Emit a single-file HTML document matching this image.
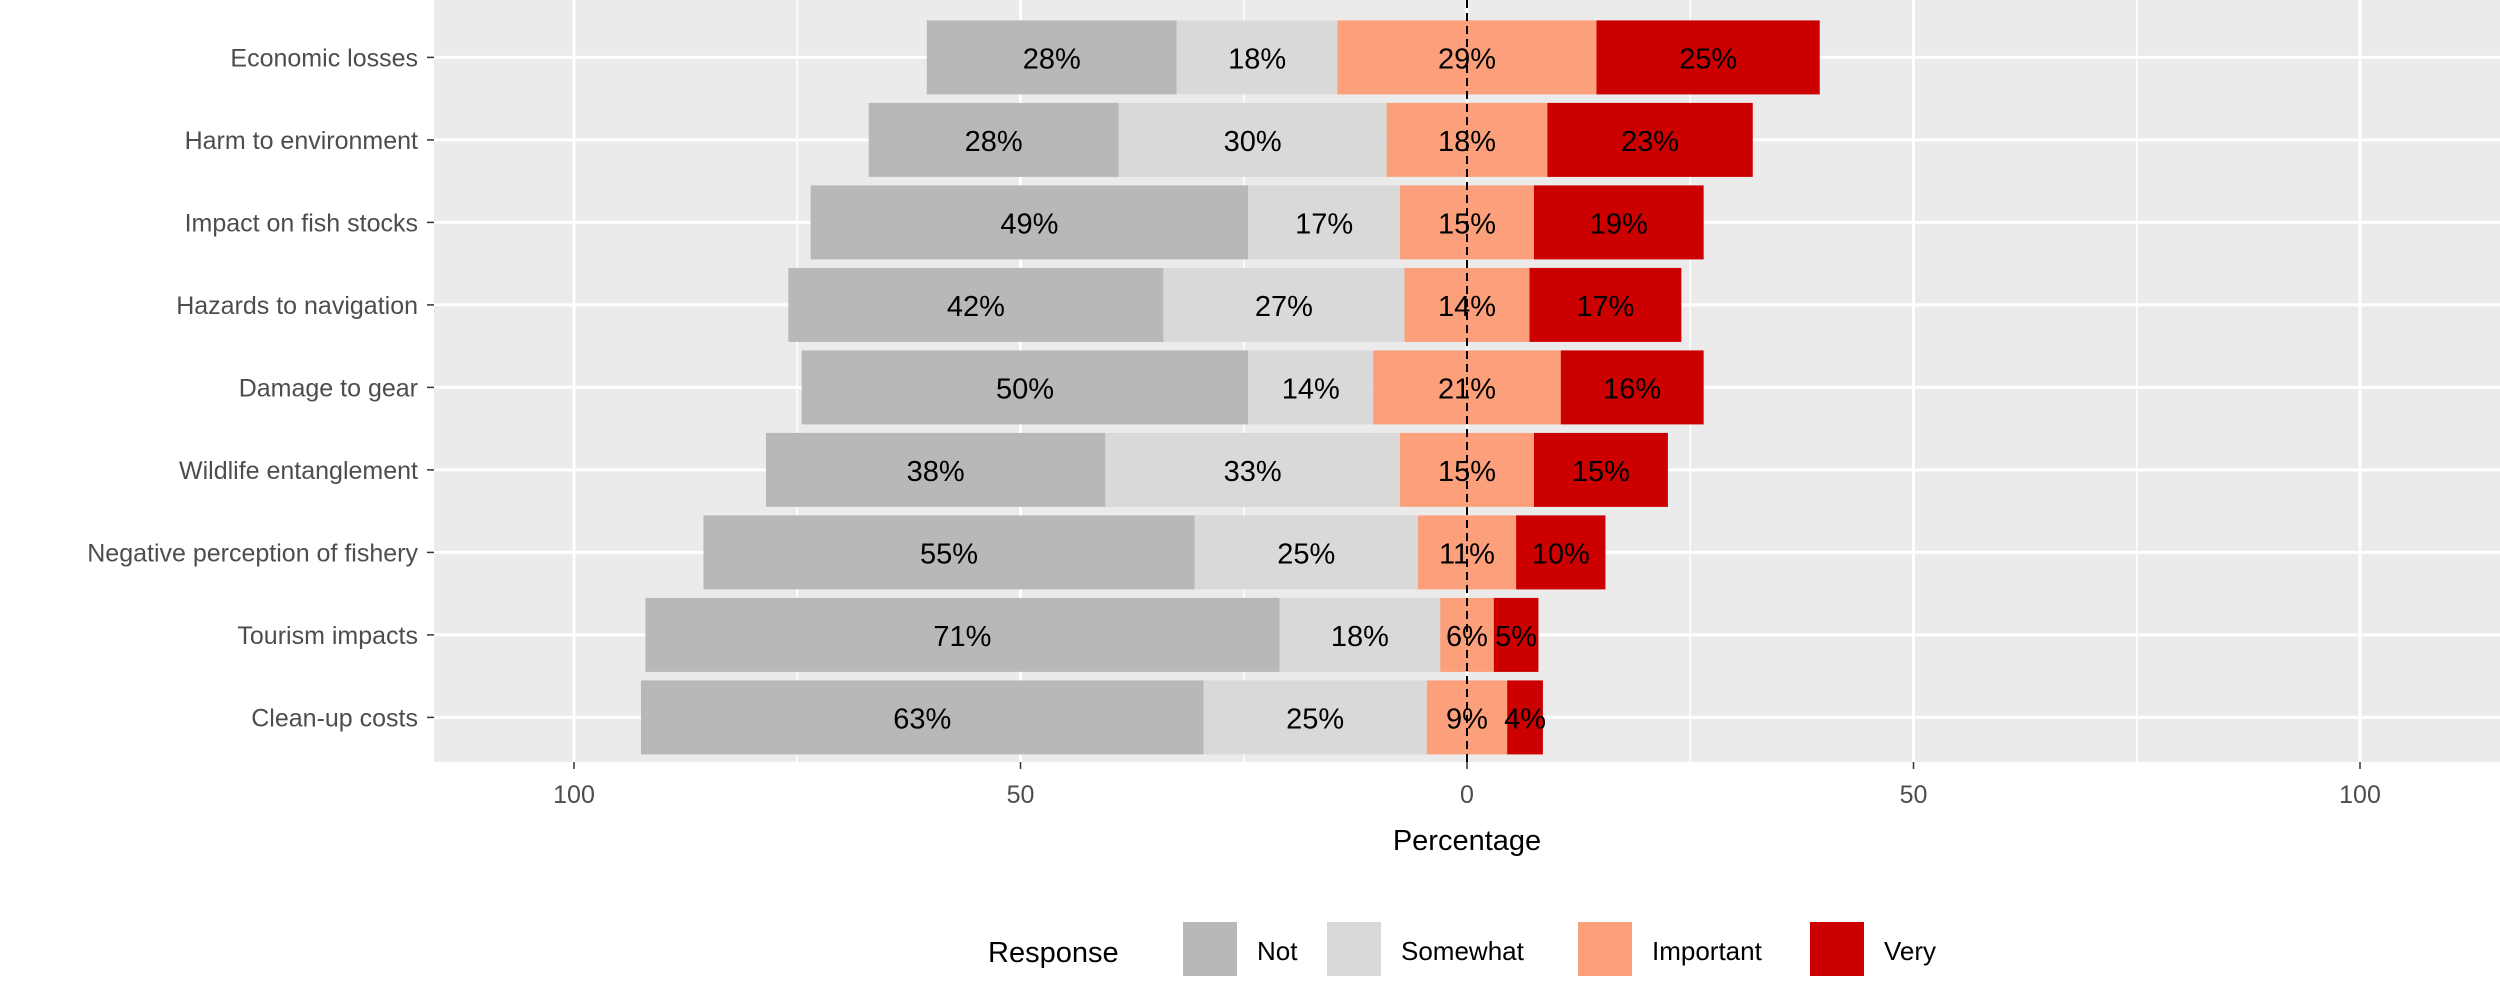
<!DOCTYPE html>
<html><head><meta charset="utf-8"><style>
html,body{margin:0;padding:0;background:#fff;}
svg{display:block;font-family:"Liberation Sans",Arial,sans-serif;}
</style></head><body>
<svg id="chart" width="2500" height="982" viewBox="0 0 2500 982">
<rect x="434" y="0" width="2066" height="762" fill="#ebebeb"/>
<g id="grid"></g>
<g id="bars"></g>
<g id="ylabels"></g>
<g id="xticks"></g>
<text x="1467" y="850" font-size="29" text-anchor="middle" fill="#000">Percentage</text>
<g id="legend"></g>
</svg>
<script>
const categories = ["Economic losses","Harm to environment","Impact on fish stocks","Hazards to navigation","Damage to gear","Wildlife entanglement","Negative perception of fishery","Tourism impacts","Clean-up costs"];
const notVals = [28,28,49,42,50,38,55,71,63];
const somewhatVals = [18,30,17,27,14,33,25,18,25];
const importantVals = [29,18,15,14,21,15,11,6,9];
const veryVals = [25,23,19,17,16,15,10,5,4];
const majorTicks = [-100,-50,0,50,100];
const tickLabels = ["100","50","0","50","100"];
const minorTicks = [-75,-25,25,75];
const legendLabels = ["Not","Somewhat","Important","Very"];
const colors = ["#b8b8b8","#d9d9d9","#fca07c","#cc0000"];

const NS = "http://www.w3.org/2000/svg";
const x0 = 1467, pxPerUnit = 8.93;
const xs = v => x0 + v * pxPerUnit;
const rowTop = 57.4, rowStep = 82.5, barH = 74;
const ys = i => rowTop + i * rowStep;
function mk(tag, attrs, parent, text) {
  const el = document.createElementNS(NS, tag);
  for (const k in attrs) el.setAttribute(k, attrs[k]);
  if (text !== undefined) el.textContent = text;
  parent.appendChild(el);
  return el;
}
const grid = document.getElementById("grid");
minorTicks.forEach(t => {
  const l = mk("line", {x1: xs(t), x2: xs(t), y1: 0, y2: 762, stroke: "#fff", "stroke-width": 1.5}, grid);
  
  
});
majorTicks.forEach(t => {
  const l = mk("line", {x1: xs(t), x2: xs(t), y1: 0, y2: 762, stroke: "#fff", "stroke-width": 3}, grid);
  
  
});
categories.forEach((c, i) => {
  const l = mk("line", {x1: 434, x2: 2500, y1: ys(i), y2: ys(i), stroke: "#fff", "stroke-width": 3}, grid);
  
  
});
const bars = document.getElementById("bars");
const series = [notVals, somewhatVals, importantVals, veryVals];
categories.forEach((c, i) => {
  const imp = importantVals[i];
  const segs = [
    [-imp/2 - somewhatVals[i] - notVals[i], -imp/2 - somewhatVals[i]],
    [-imp/2 - somewhatVals[i], -imp/2],
    [-imp/2, imp/2],
    [imp/2, imp/2 + veryVals[i]]
  ];
  segs.forEach((s, j) => {
    const r = mk("rect", {x: xs(s[0]), y: ys(i) - barH/2, width: xs(s[1]) - xs(s[0]), height: barH, fill: colors[j]}, bars);
    
    
  });
  segs.forEach((s, j) => {
    const t = mk("text", {x: (xs(s[0]) + xs(s[1])) / 2, y: ys(i) + 11, "font-size": 29, "text-anchor": "middle", fill: "#000"}, bars, series[j][i] + "%");
    
    
  });
});
const zl = mk("line", {x1: x0, x2: x0, y1: 0, y2: 766, stroke: "#000", "stroke-width": 2, "stroke-dasharray": "8,5"}, bars);


const yl = document.getElementById("ylabels");
categories.forEach((c, i) => {
  const t = mk("text", {x: 418, y: ys(i) + 9, "font-size": 25, "text-anchor": "end", fill: "#4d4d4d"}, yl, c);
  
  
  const tk = mk("line", {x1: 427, x2: 434, y1: ys(i), y2: ys(i), stroke: "#333", "stroke-width": 1.5}, yl);
  
  
});
const xt = document.getElementById("xticks");
majorTicks.forEach((t, i) => {
  const tk = mk("line", {x1: xs(t), x2: xs(t), y1: 762, y2: 769, stroke: "#333", "stroke-width": 1.5}, xt);
  
  
  const lb = mk("text", {x: xs(t), y: 803, "font-size": 25, "text-anchor": "middle", fill: "#4d4d4d"}, xt, tickLabels[i]);
  
  
});
const lg = document.getElementById("legend");
const lt = mk("text", {x: 988, y: 962, "font-size": 29, fill: "#000"}, lg, "Response");


const keyX = [1183, 1327, 1578, 1810];
legendLabels.forEach((l, j) => {
  const r = mk("rect", {x: keyX[j], y: 922, width: 54, height: 54, fill: colors[j]}, lg);
  
  
  const t = mk("text", {x: keyX[j] + 74, y: 960, "font-size": 26, fill: "#000"}, lg, l);
  
  
});
</script>
</body></html>
